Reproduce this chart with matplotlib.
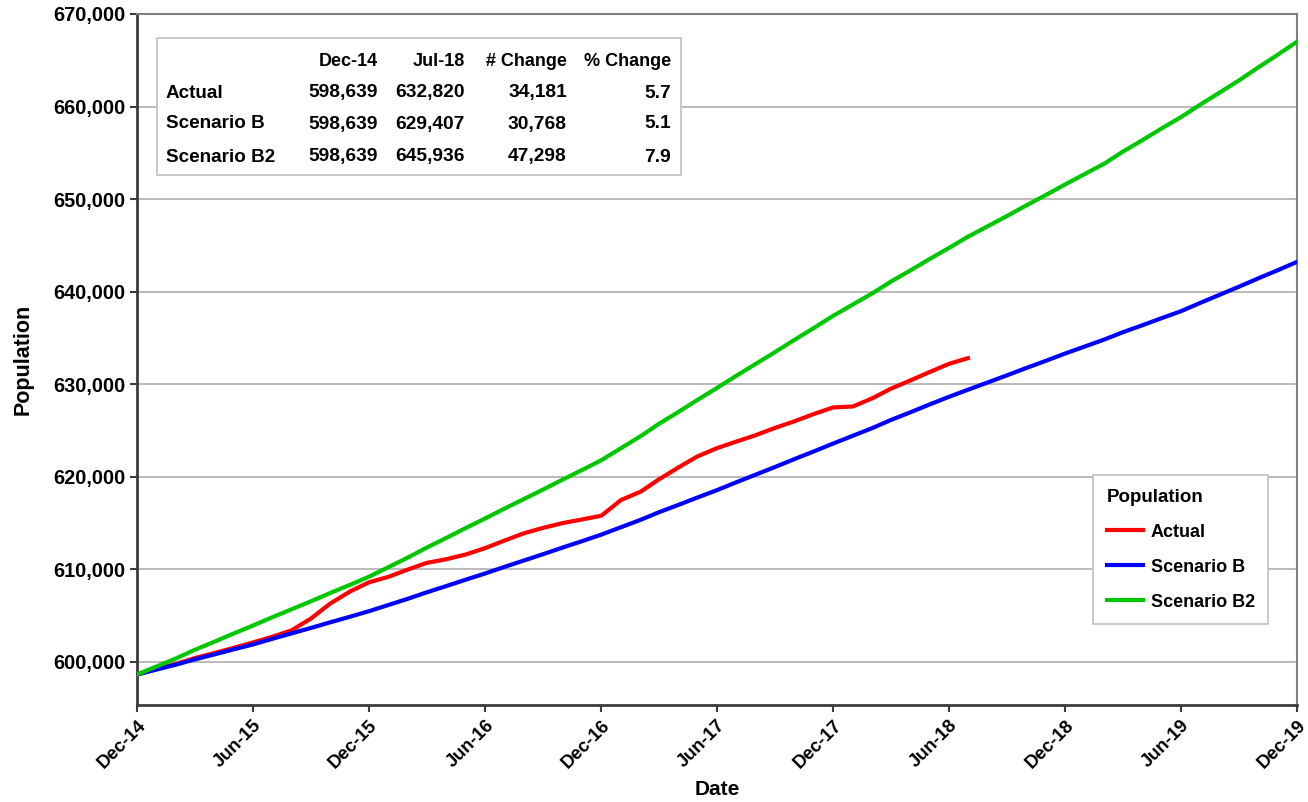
import numpy as np
import pandas as pd
import matplotlib
matplotlib.use('Agg')
import matplotlib.pyplot as plt
import matplotlib.dates as mdates
from matplotlib.patches import Rectangle

plt.rcParams['font.family'] = ['Liberation Sans', 'DejaVu Sans']

#
# monthly population, Dec-14 .. Dec-19
#
months = pd.date_range('2014-12-01', periods=61, freq='MS')

actual = [598639, 599250, 599800, 600400, 600950, 601500, 602100, 602700,
          603400, 604700, 606300, 607600, 608600, 609200, 610000, 610700,
          611100, 611600, 612300, 613100, 613900, 614500, 615000, 615400,
          615800, 617500, 618400, 619700, 621000, 622200, 623100, 623800,
          624500, 625300, 626000, 626800, 627500, 627600, 628500, 629500,
          630400, 631300, 632200, 632820]

scenario_b = [598639, 599180, 599720, 600260, 600800, 601340, 601880, 602480,
              603080, 603680, 604280, 604880, 605480, 606160, 606840, 607520,
              608200, 608880, 609560, 610260, 610960, 611660, 612360, 613060,
              613760, 614560, 615360, 616160, 616960, 617760, 618560, 619400,
              620240, 621080, 621920, 622760, 623600, 624440, 625280, 626120,
              626960, 627800, 628640, 629407, 630190, 630980, 631760, 632540,
              633320, 634080, 634840, 635600, 636360, 637120, 637880, 638770,
              639660, 640550, 641440, 642330, 643220]

scenario_b2 = [598639, 599520, 600400, 601280, 602160, 603040, 603920, 604800,
               605680, 606560, 607440, 608320, 609200, 610250, 611300, 612350,
               613400, 614450, 615500, 616550, 617600, 618650, 619700, 620750,
               621800, 623100, 624400, 625700, 627000, 628300, 629600, 630900,
               632200, 633500, 634800, 636100, 637400, 638620, 639840, 641060,
               642280, 643500, 644720, 645936, 647066, 648196, 649326, 650456,
               651586, 652716, 653846, 655096, 656346, 657596, 658846, 660176,
               661506, 662836, 664226, 665616, 667006]

# summary table
table_cols = ['', 'Dec-14', 'Jul-18', '# Change', '% Change']
table_rows = [['Actual', '598,639', '632,820', '34,181', '5.7'],
              ['Scenario B', '598,639', '629,407', '30,768', '5.1'],
              ['Scenario B2', '598,639', '645,936', '47,298', '7.9']]

W, H = 1308, 802
fig = plt.figure(figsize=(W / 100, H / 100), dpi=100)
ax = fig.add_axes([137 / W, 1 - 705 / H, (1297 - 137) / W, (705 - 14) / H])

ax.plot(months[:len(actual)], actual, color='#ff0000', lw=3, label='Actual', zorder=3)
ax.plot(months, scenario_b, color='#0000ff', lw=3, label='Scenario B', zorder=3)
ax.plot(months, scenario_b2, color='#00c800', lw=3, label='Scenario B2', zorder=3)

ax.set_xlim(months[0], months[-1])
ax.set_ylim(595350, 670000)
ax.set_yticks(np.arange(600000, 670001, 10000))
ax.yaxis.set_major_formatter(matplotlib.ticker.FuncFormatter(lambda v, p: f'{int(v):,}'))
ax.xaxis.set_major_locator(mdates.MonthLocator(bymonth=[6, 12]))
ax.xaxis.set_major_formatter(mdates.DateFormatter('%b-%y'))

ax.grid(axis='y', color='#b4b4b4', lw=1.3)
ax.set_axisbelow(True)
for s in ['left', 'bottom']:
    ax.spines[s].set_color('#3c3c3c')
    ax.spines[s].set_linewidth(2)
for s in ['top', 'right']:
    ax.spines[s].set_color('#808080')
    ax.spines[s].set_linewidth(1.5)

ax.tick_params(axis='both', length=5, width=1.5, color='#3c3c3c')
for lab in ax.get_yticklabels():
    lab.set_fontsize(14.3)
    lab.set_fontweight('bold')
for lab in ax.get_xticklabels():
    lab.set_fontsize(13.3)
    lab.set_fontweight('bold')
    lab.set_rotation(45)
    lab.set_ha('right')
    lab.set_rotation_mode('anchor')

ax.set_xlabel('Date', fontsize=15, fontweight='bold', labelpad=6)
ax.set_ylabel('Population', fontsize=15.5, fontweight='bold', labelpad=14)

# table box in the upper left
fig.patches.append(Rectangle((157 / W, 1 - 175 / H), (681 - 157) / W, (175 - 38) / H,
                             transform=fig.transFigure, facecolor='white',
                             edgecolor='#c0c0c0', lw=1.2, zorder=5))
col_right = [None, 378, 465, 567, 671]
row_y = [59, 91, 122, 155]
for j, c in enumerate(table_cols):
    if c:
        fig.text(col_right[j] / W, 1 - row_y[0] / H, c, ha='right',
                 va='center_baseline', fontsize=13, fontweight='bold', zorder=6)
for i, row in enumerate(table_rows):
    y = 1 - row_y[i + 1] / H
    fig.text(166 / W, y, row[0], ha='left', va='center_baseline', fontsize=13.6,
             fontweight='bold', zorder=6)
    for j in range(1, 5):
        fig.text(col_right[j] / W, y, row[j], ha='right', va='center_baseline',
                 fontsize=13.8, fontweight='bold', zorder=6)

leg = ax.legend(loc='upper left', bbox_to_anchor=(1093 / W, 1 - 475 / H),
                bbox_transform=fig.transFigure, borderaxespad=0,
                title='Population', alignment='left',
                title_fontproperties={'weight': 'bold', 'size': 13.5},
                prop={'weight': 'bold', 'size': 13},
                fancybox=False, edgecolor='#c0c0c0', framealpha=1,
                handlelength=2.0, handletextpad=0.45, labelspacing=1.0,
                borderpad=0.75)
leg.get_frame().set_linewidth(1.2)

fig.savefig('out.png', dpi=100)
